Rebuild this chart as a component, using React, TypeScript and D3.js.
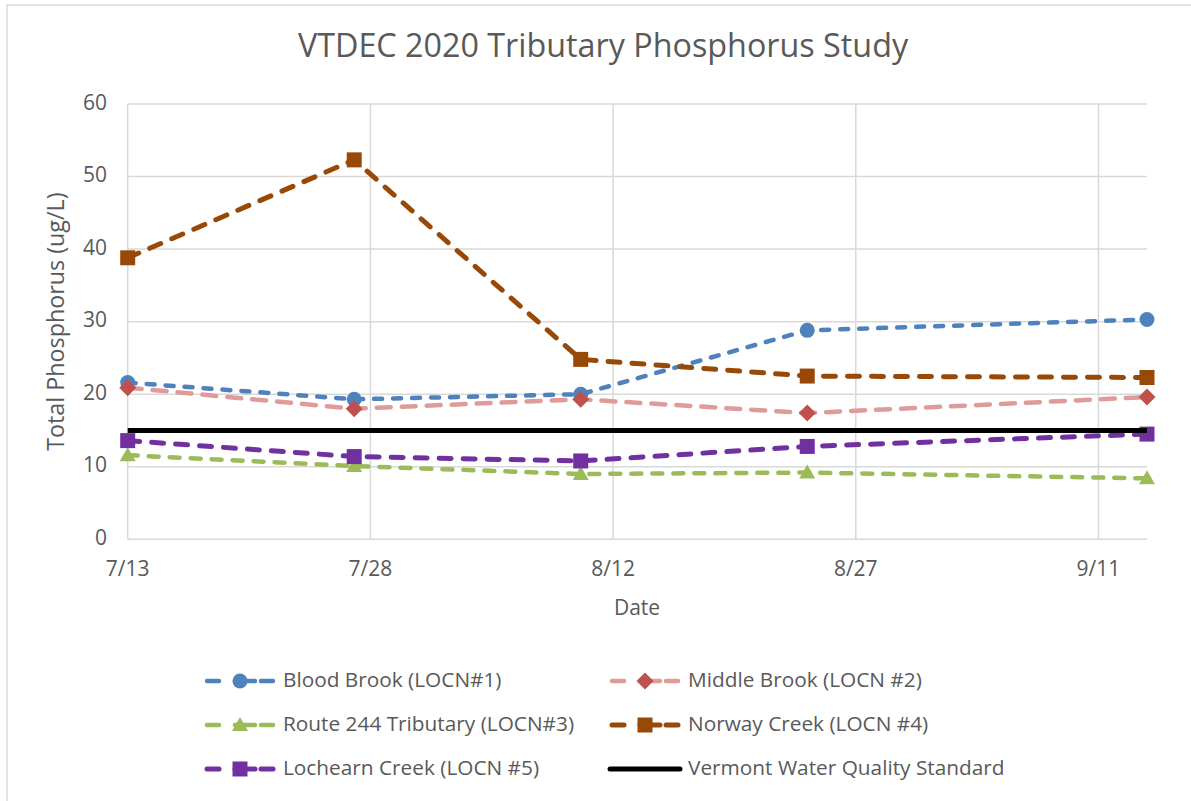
import React from "react";
import * as d3 from "d3";

const dates = ["2020-07-13", "2020-07-27", "2020-08-10", "2020-08-24", "2020-09-14"];
const bloodBrook = [21.6, 19.3, 20.0, 28.8, 30.3];
const middleBrook = [20.9, 18.0, 19.3, 17.4, 19.6];
const route244 = [11.6, 10.1, 9.0, 9.2, 8.4];
const norwayCreek = [38.8, 52.3, 24.8, 22.5, 22.3];
const lochearnCreek = [13.6, 11.4, 10.8, 12.8, 14.5];
const standardDates = ["2020-07-13", "2020-09-14"];
const standardValues = [15, 15];
const yTicks = [0, 10, 20, 30, 40, 50, 60];
const xTickDates = ["2020-07-13", "2020-07-28", "2020-08-12", "2020-08-27", "2020-09-11"];
const xTickLabels = ["7/13", "7/28", "8/12", "8/27", "9/11"];

const parse = d3.timeParse("%Y-%m-%d");

type Series = {
  name: string;
  values: number[];
  line: string;
  marker: string;
  shape: "circle" | "diamond" | "triangle" | "square";
  dash: string;
  width: number;
};

const series: Series[] = [
  { name: "Blood Brook (LOCN#1)", values: bloodBrook, line: "#4f81bd", marker: "#4f81bd", shape: "circle", dash: "8 11", width: 4.5 },
  { name: "Middle Brook (LOCN #2)", values: middleBrook, line: "#de9b9a", marker: "#c0504d", shape: "diamond", dash: "14 11", width: 4.5 },
  { name: "Route 244 Tributary (LOCN#3)", values: route244, line: "#9bbb59", marker: "#9bbb59", shape: "triangle", dash: "10 11", width: 4.5 },
  { name: "Norway Creek (LOCN #4)", values: norwayCreek, line: "#984807", marker: "#984807", shape: "square", dash: "12 12", width: 5 },
  { name: "Lochearn Creek (LOCN #5)", values: lochearnCreek, line: "#7030a0", marker: "#7030a0", shape: "square", dash: "12 12", width: 5 },
];

const FONT = "'Open Sans', sans-serif";
const TEXT = "#595959";

function Marker({ shape, x, y, color }: { shape: string; x: number; y: number; color: string }) {
  if (shape === "circle") return <circle cx={x} cy={y} r={7.5} fill={color} />;
  if (shape === "square") return <rect x={x - 7.5} y={y - 7.5} width={15} height={15} fill={color} />;
  if (shape === "diamond") {
    const s = 8.5;
    return <path d={`M${x},${y - s}L${x + s},${y}L${x},${y + s}L${x - s},${y}Z`} fill={color} />;
  }
  const s = 8;
  return <path d={`M${x},${y - s}L${x + s},${y + s * 0.75}L${x - s},${y + s * 0.75}Z`} fill={color} />;
}

export default function App() {
  const W = 1191;
  const H = 801;
  const left = 127.7;
  const right = 1147;
  const top = 104;
  const bottom = 539.3;

  const x = d3.scaleTime().domain([parse("2020-07-13")!, parse("2020-09-14")!]).range([left, right]);
  const y = d3.scaleLinear().domain([0, 60]).range([bottom, top]);

  const line = d3
    .line<[Date, number]>()
    .x((d) => x(d[0]))
    .y((d) => y(d[1]));

  const parsedDates = dates.map((d) => parse(d)!);

  const legendItems = [
    { s: series[0], col: 0, row: 0 },
    { s: series[1], col: 1, row: 0 },
    { s: series[2], col: 0, row: 1 },
    { s: series[3], col: 1, row: 1 },
    { s: series[4], col: 0, row: 2 },
  ];
  const colX = [205, 610];
  const rowY = [681, 725, 769];
  const LFS = 20.8;

  return (
    <svg width={W} height={H} style={{ position: "absolute", left: 0, top: 0, background: "#fff" }}>
      <rect x={0} y={0} width={W} height={H} fill="#fff" />
      <rect x={7} y={5} width={1300} height={1000} fill="none" stroke="#d9d9d9" strokeWidth={1.5} />
      <text x={603} y={48} textAnchor="middle" dominantBaseline="middle" fontFamily={FONT} fontSize={32.3} fill={TEXT}>
        VTDEC 2020 Tributary Phosphorus Study
      </text>
      {/* grid */}
      {yTicks.map((t) => (
        <line key={"gy" + t} x1={left} x2={right} y1={y(t)} y2={y(t)} stroke="#d9d9d9" strokeWidth={1.5} />
      ))}
      {xTickDates.map((d) => (
        <line key={"gx" + d} x1={x(parse(d)!)} x2={x(parse(d)!)} y1={top} y2={bottom} stroke="#d9d9d9" strokeWidth={1.5} />
      ))}
      {yTicks.map((t) => (
        <text key={"ty" + t} x={107} y={y(t)} textAnchor="end" dominantBaseline="middle" fontFamily={FONT} fontSize={21} fill={TEXT}>
          {t}
        </text>
      ))}
      {xTickDates.map((d, i) => (
        <text key={"tx" + d} x={x(parse(d)!)} y={570} textAnchor="middle" dominantBaseline="middle" fontFamily={FONT} fontSize={21} fill={TEXT}>
          {xTickLabels[i]}
        </text>
      ))}
      <text x={637} y={609} textAnchor="middle" dominantBaseline="middle" fontFamily={FONT} fontSize={21} fill={TEXT}>
        Date
      </text>
      <text
        transform={`translate(58,${(top + bottom) / 2}) rotate(-90)`}
        textAnchor="middle"
        dominantBaseline="middle"
        fontFamily={FONT}
        fontSize={23.3}
        fill={TEXT}
      >
        Total Phosphorus (ug/L)
      </text>
      {/* series */}
      {series.map((s) => (
        <g key={s.name}>
          <path
            d={line(parsedDates.map((d, i) => [d, s.values[i]] as [Date, number])) || ""}
            fill="none"
            stroke={s.line}
            strokeWidth={s.width}
            strokeDasharray={s.dash}
            strokeLinecap="round"
          />
          {parsedDates.map((d, i) => (
            <Marker key={i} shape={s.shape} x={x(d)} y={y(s.values[i])} color={s.marker} />
          ))}
        </g>
      ))}
      <path
        d={line(standardDates.map((d, i) => [parse(d)!, standardValues[i]] as [Date, number])) || ""}
        fill="none"
        stroke="#000"
        strokeWidth={5}
      />
      {/* legend */}
      {legendItems.map(({ s, col, row }) => {
        const lx = colX[col];
        const ly = rowY[row];
        return (
          <g key={"lg" + s.name}>
            <line x1={lx + 2} x2={lx + 14} y1={ly} y2={ly} stroke={s.line} strokeWidth={s.width} strokeLinecap="round" />
            <line x1={lx + 30} x2={lx + 50} y1={ly} y2={ly} stroke={s.line} strokeWidth={s.width} strokeLinecap="round" />
            <line x1={lx + 56} x2={lx + 68} y1={ly} y2={ly} stroke={s.line} strokeWidth={s.width} strokeLinecap="round" />
            <Marker shape={s.shape} x={lx + 35} y={ly} color={s.marker} />
            <text x={lx + 78} y={ly} dominantBaseline="middle" fontFamily={FONT} fontSize={LFS} fill={TEXT}>
              {s.name}
            </text>
          </g>
        );
      })}
      <g>
        <line x1={610} x2={680} y1={rowY[2]} y2={rowY[2]} stroke="#000" strokeWidth={5} strokeLinecap="round" />
        <text x={688} y={rowY[2]} dominantBaseline="middle" fontFamily={FONT} fontSize={LFS} fill={TEXT}>
          Vermont Water Quality Standard
        </text>
      </g>
    </svg>
  );
}
